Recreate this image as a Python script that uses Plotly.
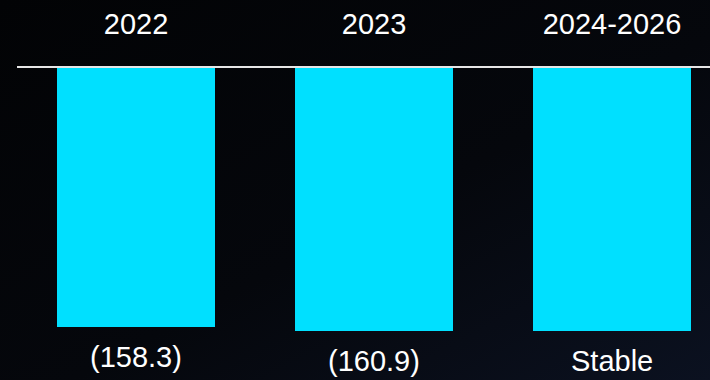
import base64
import plotly.graph_objects as go

categories = ["2022", "2023", "2024-2026"]
values = [-158.3, -160.9, -160.9]
labels = ["(158.3)", "(160.9)", "Stable"]

BAR_COLOR = "#00E0FF"
BG = "#04060a"
FONT = "Liberation Sans, Arial, sans-serif"

# subtle dark background gradient (black top-left to dark navy bottom-right)
svg = (
    '<svg xmlns="http://www.w3.org/2000/svg" width="710" height="380">'
    '<defs><linearGradient id="g" x1="0" y1="0" x2="1" y2="1">'
    '<stop offset="0" stop-color="#020305"/>'
    '<stop offset="0.55" stop-color="#05070c"/>'
    '<stop offset="1" stop-color="#0b1120"/>'
    '</linearGradient></defs>'
    '<rect width="710" height="380" fill="url(#g)"/></svg>'
)
bg_uri = "data:image/svg+xml;base64," + base64.b64encode(svg.encode()).decode()

fig = go.Figure()
fig.add_trace(go.Bar(
    x=categories, y=values,
    marker=dict(color=BAR_COLOR, line=dict(width=0)),
    width=0.664,
    hoverinfo="skip",
))

for i, (v, t) in enumerate(zip(values, labels)):
    fig.add_annotation(
        x=i, y=v, text=t, showarrow=False,
        yanchor="middle", yshift=-30,
        font=dict(family=FONT, size=29, color="white"),
    )

fig.add_layout_image(dict(
    source=bg_uri, xref="paper", yref="paper",
    x=-17 / 693, y=1 + 68 / 312, sizex=710 / 693, sizey=380 / 312,
    xanchor="left", yanchor="top", sizing="stretch", layer="below",
))

fig.update_layout(
    width=710, height=380,
    margin=dict(l=17, r=0, t=68, b=0),
    paper_bgcolor=BG, plot_bgcolor="rgba(0,0,0,0)",
    showlegend=False,
    bargap=0,
)
fig.update_xaxes(
    type="category",
    side="top", range=[-0.5, 2.4118],
    showline=True, linecolor="#e6e6e6", linewidth=2,
    showgrid=False, zeroline=False, ticks="",
    tickfont=dict(family=FONT, size=29, color="white"),
    ticklabelstandoff=20,
)
fig.update_yaxes(
    range=[-190.9, 0], visible=False, showgrid=False, zeroline=False,
)

fig.write_html("out.html")
